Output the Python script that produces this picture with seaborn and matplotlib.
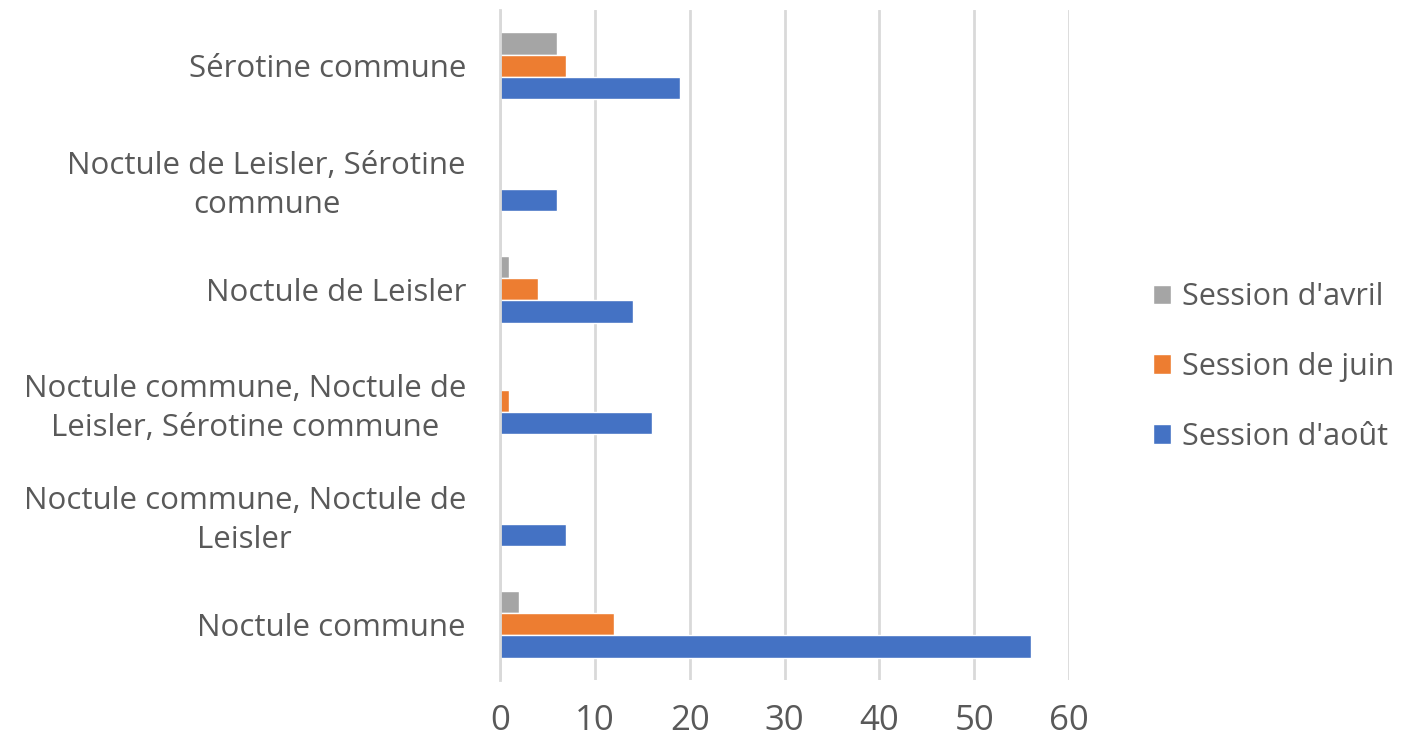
import numpy as np
import pandas as pd
import matplotlib
matplotlib.use("Agg")
import matplotlib.pyplot as plt
import seaborn as sns

# categories, top to bottom as drawn
species = [
    "Sérotine commune",
    "Noctule de Leisler, Sérotine\ncommune",
    "Noctule de Leisler",
    "Noctule commune, Noctule de\nLeisler, Sérotine commune",
    "Noctule commune, Noctule de\nLeisler",
    "Noctule commune",
]
sessions = ["Session d'avril", "Session de juin", "Session d'août"]
avril = [6, 0, 1, 0, 0, 2]
juin = [7, 0, 4, 1, 0, 12]
aout = [19, 6, 14, 16, 7, 56]
colors = ["#A5A5A5", "#ED7D31", "#4472C4"]
xticks = [0, 10, 20, 30, 40, 50, 60]

rows = []
for sess, vals in zip(sessions, [avril, juin, aout]):
    for sp, v in zip(species, vals):
        rows.append({"espece": sp, "session": sess, "n": v})
df = pd.DataFrame(rows)

sns.set_style("white")
plt.rcParams["font.family"] = ["Open Sans", "DejaVu Sans"]
text_col = "#595959"

fig = plt.figure(figsize=(14.24, 7.39), dpi=100)
ax = fig.add_axes([500 / 1424, 1 - 680 / 739, 569 / 1424, 670 / 739])

sns.barplot(data=df, x="n", y="espece", hue="session", order=species,
            hue_order=sessions, palette=colors, width=0.6, orient="h",
            saturation=1, ax=ax, legend=True)

ax.set_xlim(0, 60)
ax.set_xticks(xticks)
ax.set_ylim(len(species) - 0.5, -0.5)
ax.set_xlabel("")
ax.set_ylabel("")
ax.grid(True, axis="x", color="#D9D9D9", linewidth=2)
ax.set_axisbelow(True)
for s in ["top", "right", "bottom"]:
    ax.spines[s].set_visible(False)
ax.spines["left"].set_color("#D9D9D9")
ax.spines["left"].set_linewidth(2)

ax.tick_params(axis="x", length=0, labelsize=25, labelcolor=text_col, pad=17)
ax.tick_params(axis="y", which="major", length=0, labelsize=22.5,
               labelcolor=text_col, pad=24.5)
ax.set_yticks(np.arange(-0.5, len(species)), minor=True)
ax.tick_params(axis="y", which="minor", length=9, width=2, color="#D9D9D9")
for lab in ax.get_yticklabels():
    lab.set_multialignment("center")
    lab.set_linespacing(1.38)

handles, labels = ax.get_legend_handles_labels()
ax.get_legend().remove()
fig.legend(handles, labels, loc="center left",
           bbox_to_anchor=(1125 / 1424, 1 - 367 / 739), frameon=False,
           fontsize=22, labelcolor=text_col, handlelength=0.62,
           handleheight=0.62, handletextpad=0.35, labelspacing=1.3)

fig.savefig("out.png", dpi=100, facecolor="white")
